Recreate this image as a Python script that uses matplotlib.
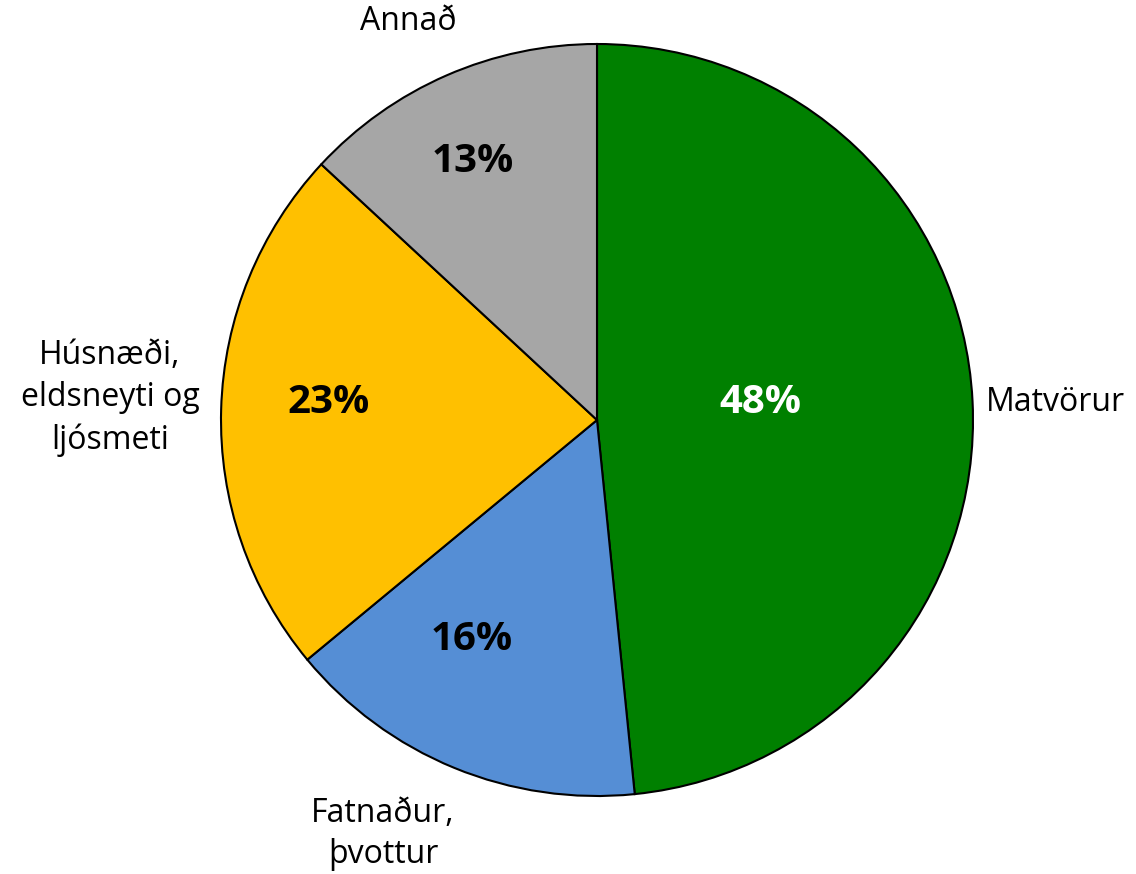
import matplotlib
matplotlib.use("Agg")
import matplotlib.pyplot as plt

categories = ["Matvörur", "Fatnaður,\nþvottur", "Húsnæði,\neldsneyti og\nljósmeti", "Annað"]
values = [48.4, 15.6, 22.9, 13.1]
colors = ["#008000", "#558ED5", "#FFC000", "#A6A6A6"]
pct_colors = ["white", "black", "black", "black"]

W, H = 1136, 874
cx, cy, R = 597, 420, 376

def px(x, y):
    return ((x - cx) / R, (cy - y) / R)

fig = plt.figure(figsize=(W / 100, H / 100), dpi=100)
ax = fig.add_axes([0, 0, 1, 1])

wedges, texts, autotexts = ax.pie(
    values, labels=categories, colors=colors, startangle=90, counterclock=False,
    autopct="%.0f%%", radius=1,
    wedgeprops=dict(edgecolor="black", linewidth=1.5),
    textprops=dict(family="Open Sans", fontsize=23),
)
ax.set_xlim(-cx / R, (W - cx) / R)
ax.set_ylim(-(H - cy) / R, cy / R)
ax.set_aspect("equal")
ax.axis("off")

label_pos = [((986, 403), "left"), ((383, 834), "center"), ((110, 398), "center"), ((408, 22), "center")]
for t, ((x, y), ha) in zip(texts, label_pos):
    t.set_position(px(x, y))
    t.set_ha(ha)
    t.set_va("center")
    t.set_linespacing(1.35)

pct_pos = [(760, 403), (472, 640), (329, 403), (473, 162)]
for t, (x, y), c in zip(autotexts, pct_pos, pct_colors):
    t.set_position(px(x, y))
    t.set_color(c)
    t.set_fontsize(29)
    t.set_fontweight("bold")
    t.set_ha("center")
    t.set_va("center")

fig.savefig("out.png", dpi=100)
